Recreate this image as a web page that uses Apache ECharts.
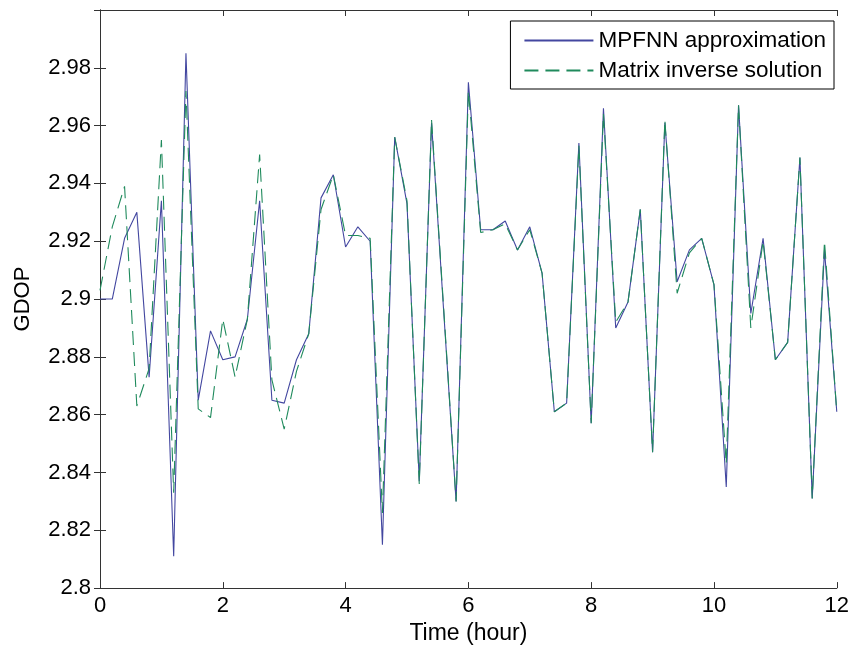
<!DOCTYPE html>
<html>
<head>
<meta charset="utf-8">
<script src="https://cdn.jsdelivr.net/npm/echarts@6/dist/echarts.min.js"></script>
<style>html,body{margin:0;padding:0;background:#fff;}#c{width:852px;height:650px;}</style>
</head>
<body>
<div id="c"></div>
<script>
var timeHours = [0,0.2,0.4,0.6,0.8,1,1.2,1.4,1.6,1.8,2,2.2,2.4,2.6,2.8,3,3.2,3.4,3.6,3.8,4,4.2,4.4,4.6,4.8,5,5.2,5.4,5.6,5.8,6,6.2,6.4,6.6,6.8,7,7.2,7.4,7.6,7.8,8,8.2,8.4,8.6,8.8,9,9.2,9.4,9.6,9.8,10,10.2,10.4,10.6,10.8,11,11.2,11.4,11.6,11.8,12];
var mpfnnValues = [2.900,2.900,2.921,2.930,2.873,2.934,2.811,2.985,2.865,2.889,2.879,2.880,2.893,2.934,2.865,2.864,2.879,2.888,2.935,2.943,2.918,2.925,2.920,2.815,2.956,2.933,2.837,2.961,2.895,2.830,2.975,2.924,2.924,2.927,2.917,2.925,2.909,2.861,2.864,2.954,2.857,2.966,2.890,2.899,2.931,2.847,2.961,2.906,2.917,2.921,2.905,2.835,2.967,2.895,2.921,2.879,2.885,2.949,2.831,2.917,2.861];
var matrixValues = [2.903,2.925,2.939,2.863,2.876,2.955,2.833,2.972,2.862,2.859,2.893,2.873,2.893,2.950,2.872,2.855,2.875,2.888,2.931,2.943,2.922,2.922,2.921,2.826,2.956,2.934,2.836,2.962,2.896,2.830,2.972,2.923,2.924,2.926,2.917,2.924,2.909,2.861,2.864,2.953,2.857,2.964,2.892,2.899,2.931,2.847,2.962,2.902,2.916,2.921,2.905,2.843,2.967,2.890,2.920,2.879,2.885,2.949,2.831,2.920,2.861];
var xTicks = [0,2,4,6,8,10,12];
var yTicks = [2.8,2.82,2.84,2.86,2.88,2.9,2.92,2.94,2.96,2.98];
var seriesNames = ['MPFNN approximation','Matrix inverse solution'];

function pairs(vals){ return timeHours.map(function(t,i){ return [t, vals[i]]; }); }

var FONT = 'Liberation Sans, Arial, sans-serif';
var FS = 22;
var frame = {lineStyle:{color:'#333', width:1}};
var chart = echarts.init(document.getElementById('c'), null, {renderer:'canvas'});
chart.setOption({
  animation:false,
  backgroundColor:'#fff',
  grid:{left:100, right:9, top:10, bottom:61, containLabel:false},
  legend:{
    orient:'vertical', right:18, top:21,
    data:seriesNames,
    backgroundColor:'#fff', borderColor:'#000', borderWidth:1,
    padding:[8,8,7,13],
    itemWidth:69, itemHeight:14, itemGap:7,
    itemStyle:{opacity:0},
    textStyle:{fontFamily:FONT, fontSize:22.5, color:'#000', lineHeight:23}
  },
  xAxis:[{
    type:'value', min:0, max:12, interval:2, position:'bottom',
    name:'Time (hour)', nameLocation:'middle', nameGap:33,
    nameTextStyle:{fontFamily:FONT, fontSize:23, color:'#000'},
    axisLine:frame, axisTick:{inside:true, length:6, lineStyle:{color:'#333'}},
    axisLabel:{fontFamily:FONT, fontSize:FS, color:'#000', margin:7,
      formatter:function(v){ return xTicks.indexOf(v)>=0 ? String(v) : ''; }},
    splitLine:{show:false}
  },{
    type:'value', min:0, max:12, interval:2, position:'top',
    axisLine:frame, axisTick:{inside:true, length:6, lineStyle:{color:'#333'}},
    axisLabel:{show:false}, splitLine:{show:false}
  }],
  yAxis:[{
    type:'value', min:2.8, max:3.0, interval:0.02, position:'left',
    name:'GDOP', nameLocation:'middle', nameGap:66,
    nameTextStyle:{fontFamily:FONT, fontSize:FS, color:'#000'},
    axisLine:frame, axisTick:{inside:true, length:6, lineStyle:{color:'#333'}},
    axisLabel:{fontFamily:FONT, fontSize:FS, color:'#000', margin:9, showMaxLabel:false,
      formatter:function(v){ var r = Math.round(v*100)/100; return yTicks.indexOf(r)>=0 ? String(r) : ''; }},
    splitLine:{show:false}
  },{
    type:'value', min:2.8, max:3.0, interval:0.02, position:'right',
    axisLine:frame, axisTick:{inside:true, length:6, lineStyle:{color:'#333'}},
    axisLabel:{show:false}, splitLine:{show:false}
  }],
  series:[{
    name:seriesNames[0], type:'line', data:pairs(mpfnnValues),
    symbol:'none', showSymbol:false,
    lineStyle:{color:'#4347a0', width:1.1, type:'solid'},
    itemStyle:{color:'#4347a0'}
  },{
    name:seriesNames[1], type:'line', data:pairs(matrixValues),
    symbol:'none', showSymbol:false,
    lineStyle:{color:'#1f8a5c', width:1.1, type:[14,7]},
    itemStyle:{color:'#1f8a5c'}
  }]
});
</script>
</body>
</html>
